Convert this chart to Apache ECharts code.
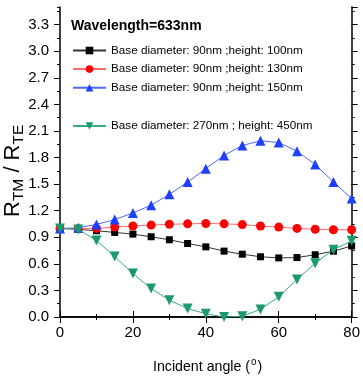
<!DOCTYPE html>
<html>
<head>
<meta charset="utf-8">
<script src="https://cdn.jsdelivr.net/npm/echarts@6/dist/echarts.min.js"></script>
<style>html,body{margin:0;padding:0;background:#fff}#c{width:363px;height:379px}</style>
</head>
<body>
<div id="c"></div>
<script>
var angles = [0,5,10,15,20,25,30,35,40,45,50,55,60,65,70,75,80];
var names = [
  'Base diameter: 90nm ;height: 100nm',
  'Base diameter: 90nm ;height: 130nm',
  'Base diameter: 90nm ;height: 150nm',
  'Base diameter: 270nm ; height: 450nm'
];
var h100 = [1.0,0.99,0.974,0.955,0.936,0.906,0.872,0.83,0.792,0.744,0.709,0.68,0.667,0.671,0.703,0.743,0.802];
var h130 = [1.0,0.995,1.0,1.015,1.028,1.038,1.047,1.052,1.056,1.052,1.043,1.027,1.015,1.0,0.991,0.985,0.985];
var h150 = [1.0,1.007,1.045,1.10,1.175,1.262,1.385,1.524,1.674,1.824,1.936,1.99,1.97,1.872,1.722,1.524,1.337];
var h450 = [1.0,0.989,0.865,0.682,0.49,0.322,0.19,0.095,0.037,0.0,0.008,0.086,0.228,0.423,0.607,0.76,0.86];
var xTicks = {min:0, max:80, step:20};
var yTicks = {min:0, max:3.5, step:0.3};
var FONT = 'Liberation Sans';

function pairs(arr){ return angles.map(function(a,i){ return [a, arr[i]]; }); }

var chart = echarts.init(document.getElementById('c'));
function mkY(pos, minor, labels){
  return {
    type:'value', position:pos, min:yTicks.min, max:yTicks.max,
    interval: minor ? yTicks.step/2 : yTicks.step,
    axisLine:{show:!minor, lineStyle:{color:'#000', width:1.5}},
    axisTick:{show:true, inside:false, length: minor?3:6, lineStyle:{color:'#000', width:1}},
    axisLabel:{show:labels, color:'#000', fontSize:15, fontFamily:FONT, margin:11, showMaxLabel:false,
      formatter:function(v){ return v.toFixed(1); }},
    splitLine:{show:false}
  };
}
function mkX(pos, labels){
  return {
    type:'value', position:pos, min:xTicks.min, max:xTicks.max, interval:xTicks.step,
    axisLine:{show:true, lineStyle:{color:'#000', width:1.5}},
    axisTick:{show:true, inside:false, length:6, lineStyle:{color:'#000', width:1}},
    minorTick:{show:true, splitNumber:2, length:3, lineStyle:{color:'#000', width:1}},
    axisLabel:{show:labels, color:'#000', fontSize:15, fontFamily:FONT, margin:8},
    splitLine:{show:false}
  };
}
var cols = ['#000000','#ff0000','#1f3fff','#1b9a6e'];
var lineCols = ['#333333','#ff6a6a','#4a68ff','#3aaa80'];
var syms = ['rect','circle','triangle','path://M0,0 L10,0 L5,9 Z'];
var sizes = [7,9,10,10];
var datas = [h100,h130,h150,h450];
var series = datas.map(function(d,i){
  return {
    name:names[i], type:'line', data:pairs(d), symbol:syms[i], symbolSize:sizes[i],
    xAxisIndex:0, yAxisIndex:0,
    itemStyle:{color:cols[i]}, lineStyle:{color:lineCols[i], width:1},
    smooth:false, animation:false, z: 2+i
  };
});
var legText = {fontSize:11.7, color:'#000', fontFamily:FONT};
chart.setOption({
  animation:false,
  grid:{left:60, right:8, top:7, bottom:62, containLabel:false},
  title:{text:'Wavelength=633nm', left:66, top:14,
    textStyle:{fontSize:14, fontWeight:'bold', color:'#000', fontFamily:FONT}},
  legend:[
    {data:names.slice(0,3), orient:'vertical', left:72, top:44.5, padding:0, itemGap:6.6, itemWidth:33, itemHeight:9.5,
      textStyle:legText, selectedMode:false},
    {data:names.slice(3), orient:'vertical', left:72, top:120, padding:0, itemWidth:33, itemHeight:9.5,
      textStyle:legText, selectedMode:false}
  ],
  xAxis:[mkX('bottom', true), mkX('top', false)],
  yAxis:[mkY('left', false, true), mkY('left', true, false), mkY('right', false, false), mkY('right', true, false)],
  series:series,
  graphic:[
    {type:'text', x:153, y:357,
     style:{text:'{a|Incident angle (}{s|o}{a|)}', rich:{
        a:{fontSize:14.2, fontFamily:FONT, fill:'#000', lineHeight:20},
        s:{fontSize:10, fontFamily:FONT, fill:'#000', padding:[0,1,10,1]}}}},
    {type:'text', x:-1, y:217, rotation:Math.PI/2,
     style:{text:'{r|R}{b|TM}{r| / R}{b|TE}', rich:{
        r:{fontSize:22, fontFamily:FONT, fill:'#000', lineHeight:26},
        b:{fontSize:15.5, fontFamily:FONT, fill:'#000', padding:[12,0,0,0]}}}}
  ]
});
</script>
</body>
</html>
